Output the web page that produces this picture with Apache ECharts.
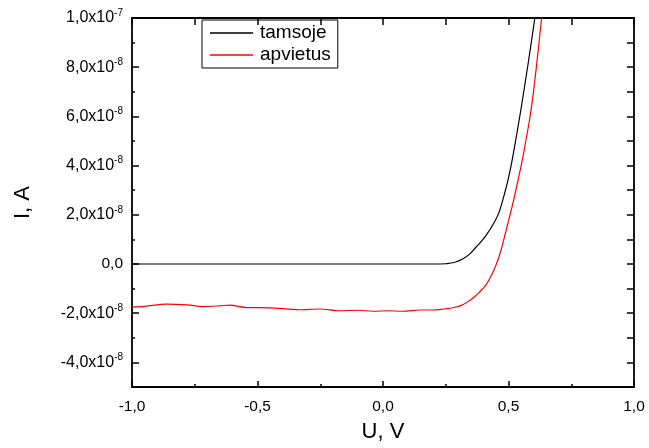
<!DOCTYPE html>
<html lang="lt">
<head>
<meta charset="UTF-8">
<title>I-U</title>
<script src="https://cdn.jsdelivr.net/npm/echarts@6/dist/echarts.min.js"></script>
<style>
  html, body { margin: 0; padding: 0; background: #fff; }
</style>
</head>
<body>
<div id="main" style="width: 649px;height:448px;"></div>
<script>
    // U, V
    var darkU = [-1.0, -0.5, 0.0, 0.2, 0.25, 0.264, 0.29, 0.317, 0.345, 0.37, 0.39, 0.41, 0.443, 0.463, 0.48, 0.5, 0.516, 0.549, 0.579, 0.605, 0.62];
    // I, x1e-8 A
    var darkI = [0, 0, 0, 0, 0.01, 0.03, 0.08, 0.2, 0.4, 0.68, 0.9, 1.15, 1.69, 2.12, 2.7, 3.5, 4.3, 6.25, 8.2, 10.0, 11.1];

    var lightU = [-1.0, -0.95, -0.862, -0.78, -0.716, -0.65, -0.61, -0.544, -0.45, -0.332, -0.252, -0.173, -0.1, -0.04, 0.02, 0.079, 0.145, 0.198, 0.25, 0.278, 0.317, 0.344, 0.365, 0.384, 0.41, 0.43, 0.45, 0.47, 0.49, 0.516, 0.54, 0.56, 0.589, 0.611, 0.632, 0.645];
    var lightI = [-1.75, -1.72, -1.63, -1.66, -1.73, -1.70, -1.67, -1.77, -1.78, -1.86, -1.83, -1.90, -1.88, -1.92, -1.90, -1.92, -1.87, -1.87, -1.82, -1.78, -1.66, -1.49, -1.33, -1.15, -0.85, -0.5, -0.05, 0.55, 1.35, 2.4, 3.5, 4.5, 6.2, 8.0, 10.0, 11.2];

    var xMajor = [-1, -0.5, 0, 0.5, 1];
    var yMajor = [-4, -2, 0, 2, 4, 6, 8, 10];

    function pairs(xs, ys) {
        var out = [];
        for (var i = 0; i < xs.length; i++) out.push([xs[i], ys[i]]);
        return out;
    }

    var font = "'Liberation Sans', Arial, sans-serif";

    function yLabel(v) {
        if (v === 0) return '0,0';
        if (v === 10) return '{m|1,0x10}{s|-7}';
        return '{m|' + v + ',0x10}{s|-8}';
    }

    function xLabel(v) {
        return v.toFixed(1).replace('.', ',');
    }

    var axisLine = { show: true, onZero: false, lineStyle: { color: '#000', width: 1.8 } };
    var noLine = { show: false, onZero: false };
    var tickStyle = { color: '#000', width: 1.5 };

    var myChart = echarts.init(document.getElementById('main'));

    var option = {
        animation: false,
        backgroundColor: '#fff',
        grid: { left: 132, right: 15, top: 18, bottom: 61, outerBoundsMode: 'none' },
        legend: {
            left: 202,
            top: 20,
            orient: 'vertical',
            icon: 'rect',
            itemWidth: 43,
            itemHeight: 1.3,
            itemGap: 2,
            padding: [3, 7, 3, 8],
            borderColor: '#000',
            borderWidth: 1,
            textStyle: { fontSize: 19, color: '#000', fontFamily: font, lineHeight: 20, padding: [0, 0, 0, 2] },
            data: ['tamsoje', 'apvietus']
        },
        xAxis: [
            {
                type: 'value', position: 'bottom', min: -1, max: 1, interval: 0.25,
                name: 'U, V', nameLocation: 'middle', nameGap: 34,
                nameTextStyle: { fontSize: 22, color: '#000', fontFamily: font },
                axisLine: axisLine,
                axisTick: { inside: true, length: 6, customValues: xMajor, lineStyle: tickStyle },
                axisLabel: { customValues: xMajor, formatter: xLabel, margin: 12, fontSize: 15.5, color: '#000', fontFamily: font },
                splitLine: { show: false }
            },
            {
                type: 'value', position: 'bottom', min: -1, max: 1, interval: 0.25,
                axisLine: noLine,
                axisTick: { inside: true, length: 3, lineStyle: tickStyle },
                axisLabel: { show: false },
                splitLine: { show: false }
            },
            {
                type: 'value', position: 'top', min: -1, max: 1, interval: 0.25,
                axisLine: axisLine,
                axisTick: { inside: true, length: 7, lineStyle: tickStyle },
                axisLabel: { show: false },
                splitLine: { show: false }
            }
        ],
        yAxis: [
            {
                type: 'value', position: 'left', min: -5, max: 10, interval: 1,
                name: 'I, A', nameLocation: 'middle', nameGap: 98,
                nameTextStyle: { fontSize: 22, color: '#000', fontFamily: font },
                axisLine: axisLine,
                axisTick: { inside: true, length: 7, customValues: yMajor, lineStyle: tickStyle },
                axisLabel: {
                    customValues: yMajor, formatter: yLabel, margin: 9,
                    fontSize: 15.5, color: '#000', fontFamily: font,
                    rich: {
                        m: { fontSize: 16, lineHeight: 20, color: '#000', fontFamily: font },
                        s: { fontSize: 10, lineHeight: 8, verticalAlign: 'top', color: '#000', fontFamily: font }
                    }
                },
                splitLine: { show: false }
            },
            {
                type: 'value', position: 'left', min: -5, max: 10, interval: 1,
                axisLine: noLine,
                axisTick: { inside: true, length: 3, lineStyle: tickStyle },
                axisLabel: { show: false },
                splitLine: { show: false }
            },
            {
                type: 'value', position: 'right', min: -5, max: 10, interval: 1,
                axisLine: axisLine,
                axisTick: { inside: true, length: 7, lineStyle: tickStyle },
                axisLabel: { show: false },
                splitLine: { show: false }
            }
        ],
        series: [
            {
                name: 'tamsoje', type: 'line', xAxisIndex: 0, yAxisIndex: 0,
                symbol: 'none', smooth: 0.3, clip: true,
                itemStyle: { color: '#000' },
                lineStyle: { color: '#000', width: 1.2 },
                data: pairs(darkU, darkI)
            },
            {
                name: 'apvietus', type: 'line', xAxisIndex: 0, yAxisIndex: 0,
                symbol: 'none', smooth: 0.3, clip: true,
                itemStyle: { color: '#ff0000' },
                lineStyle: { color: '#ff0000', width: 1.2 },
                data: pairs(lightU, lightI)
            }
        ]
    };
    myChart.setOption(option);
</script>
</body>
</html>
